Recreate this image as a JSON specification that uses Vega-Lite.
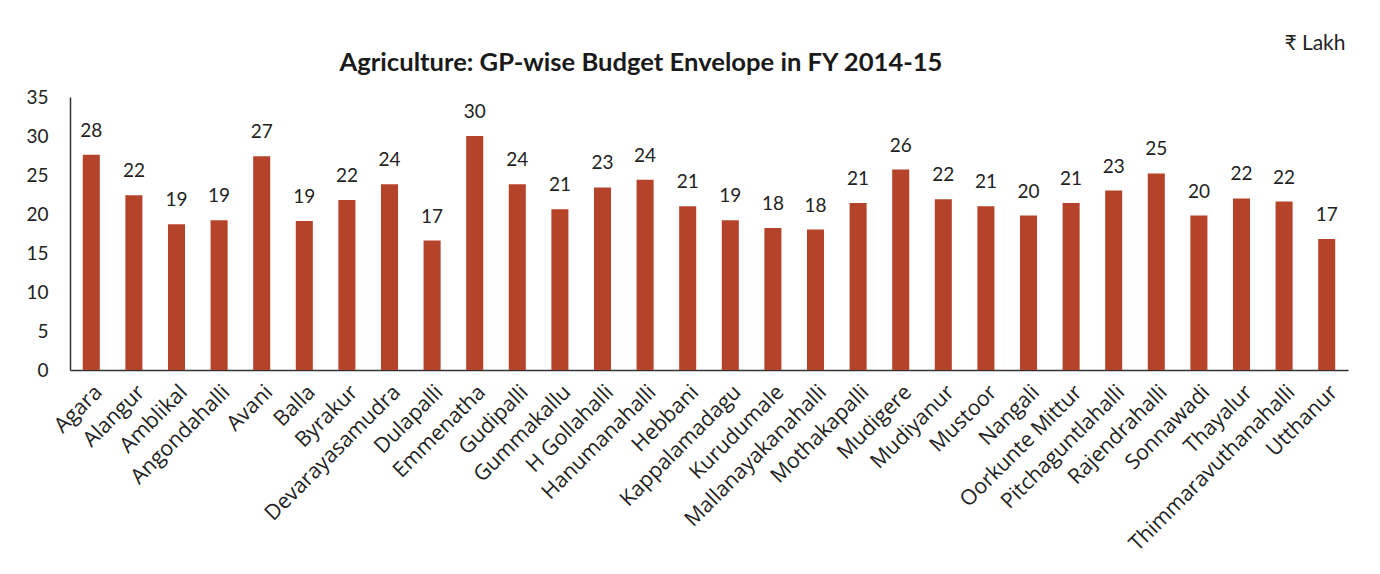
{
  "$schema": "https://vega.github.io/schema/vega-lite/v6.json",
  "width": 1278,
  "height": 273,
  "autosize": "none",
  "padding": {"left": 70, "top": 97, "right": 32, "bottom": 204},
  "background": "white",
  "title": {
    "text": "Agriculture: GP-wise Budget Envelope in FY 2014-15",
    "font": "Lato",
    "fontSize": 25.6,
    "fontWeight": "bold",
    "color": "#1a1a1a",
    "anchor": "middle",
    "dx": -68,
    "offset": -45
  },
  "config": {
    "view": {"stroke": null},
    "font": "Lato",
    "text": {"font": "Lato"}
  },
  "data": {
    "values": [
      {"gp": "Agara", "v": 27.6},
      {"gp": "Alangur", "v": 22.4},
      {"gp": "Amblikal", "v": 18.7},
      {"gp": "Angondahalli", "v": 19.2},
      {"gp": "Avani", "v": 27.4},
      {"gp": "Balla", "v": 19.1},
      {"gp": "Byrakur", "v": 21.8},
      {"gp": "Devarayasamudra", "v": 23.8},
      {"gp": "Dulapalli", "v": 16.6},
      {"gp": "Emmenatha", "v": 30.0},
      {"gp": "Gudipalli", "v": 23.8},
      {"gp": "Gummakallu", "v": 20.6},
      {"gp": "H Gollahalli", "v": 23.4},
      {"gp": "Hanumanahalli", "v": 24.4},
      {"gp": "Hebbani", "v": 21.0},
      {"gp": "Kappalamadagu", "v": 19.2},
      {"gp": "Kurudumale", "v": 18.2},
      {"gp": "Mallanayakanahalli", "v": 18.0},
      {"gp": "Mothakapalli", "v": 21.4},
      {"gp": "Mudigere", "v": 25.7},
      {"gp": "Mudiyanur", "v": 21.9},
      {"gp": "Mustoor", "v": 21.0},
      {"gp": "Nangali", "v": 19.8},
      {"gp": "Oorkunte Mittur", "v": 21.4},
      {"gp": "Pitchaguntlahalli", "v": 23.0},
      {"gp": "Rajendrahalli", "v": 25.2},
      {"gp": "Sonnawadi", "v": 19.8},
      {"gp": "Thayalur", "v": 22.0},
      {"gp": "Thimmaravuthanahalli", "v": 21.6},
      {"gp": "Utthanur", "v": 16.8}
    ]
  },
  "encoding": {
    "x": {
      "field": "gp",
      "type": "nominal",
      "sort": null,
      "scale": {"paddingInner": 0.6, "paddingOuter": 0.3},
      "axis": {
        "title": null,
        "labelAngle": -45,
        "labelFontSize": 21.3,
        "labelColor": "#222",
        "labelFont": "Open Sans",
        "labelLimit": 400,
        "ticks": false,
        "labelPadding": 11,
        "domainColor": "#333",
        "domainWidth": 1.5
      }
    },
    "y": {
      "field": "v",
      "type": "quantitative",
      "scale": {"domain": [0, 35]},
      "axis": {
        "values": [0, 5, 10, 15, 20, 25, 30, 35],
        "grid": false,
        "ticks": false,
        "labelFontSize": 19,
        "labelColor": "#222",
        "labelFont": "Lato",
        "labelPadding": 22,
        "domainColor": "#333",
        "domainWidth": 1.5,
        "title": "₹ Lakh",
        "titleAngle": 0,
        "titleX": 1275,
        "titleY": -48,
        "titleAlign": "right",
        "titleBaseline": "alphabetic",
        "titleFont": "Lato",
        "titleFontSize": 21,
        "titleFontWeight": "normal",
        "titleColor": "#222"
      }
    }
  },
  "layer": [
    {"mark": {"type": "bar", "color": "#B5432A"}},
    {
      "mark": {
        "type": "text",
        "baseline": "bottom",
        "dy": -14,
        "fontSize": 19,
        "color": "#222",
        "font": "Lato"
      },
      "encoding": {"text": {"field": "v", "type": "quantitative", "format": ".0f"}}
    }
  ]
}
